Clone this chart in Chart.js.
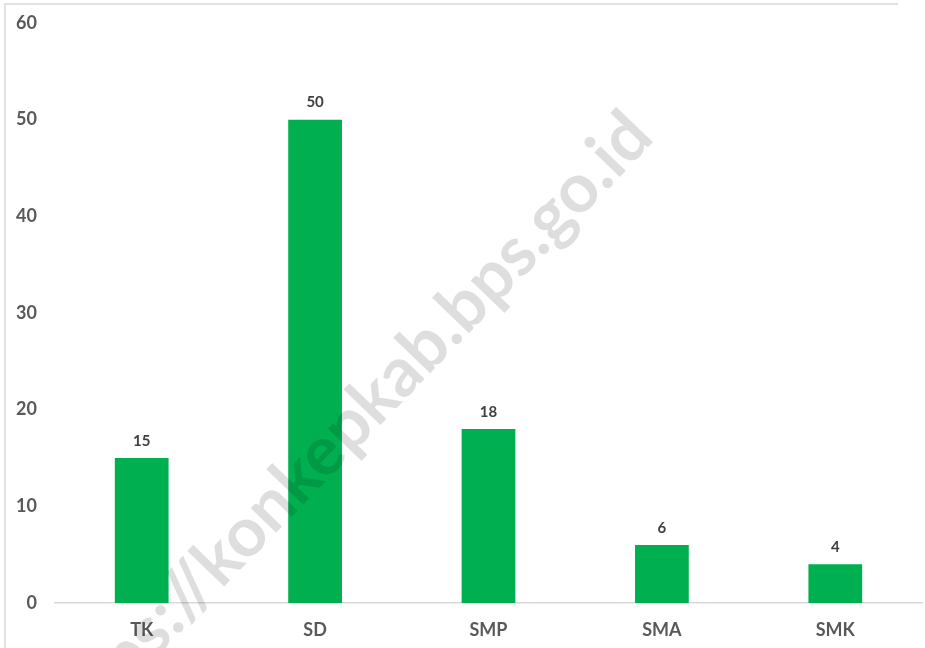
<!DOCTYPE html>
<html>
<head>
    <title>Jumlah Sekolah</title>
    <script src="https://cdn.jsdelivr.net/npm/chart.js"></script>
    <style>
        html, body { margin: 0; padding: 0; background: #fff; }
        #wrap { width: 925px; height: 648px; position: relative; }
    </style>
</head>
<body>
    <div id="wrap"><canvas id="sekolahChart"></canvas></div>

    <script>
        // data
        const jenjang = ['TK', 'SD', 'SMP', 'SMA', 'SMK'];
        const jumlah = [15, 50, 18, 6, 4];
        const yTicks = [0, 10, 20, 30, 40, 50, 60];
        const watermark = 'https://konkepkab.bps.go.id';

        const FONT = 'Lato, "Noto Sans", sans-serif';

        // bingkai tipis kiri & atas
        const framePlugin = {
            id: 'frame',
            beforeDraw(chart) {
                const c = chart.ctx;
                c.save();
                c.strokeStyle = '#d9d9d9';
                c.lineWidth = 1.5;
                c.beginPath();
                c.moveTo(5, 648);
                c.lineTo(5, 4);
                c.lineTo(898, 4);
                c.stroke();
                c.restore();
            }
        };

        // angka di atas batang
        const labelPlugin = {
            id: 'barLabels',
            afterDatasetsDraw(chart) {
                const c = chart.ctx;
                const meta = chart.getDatasetMeta(0);
                c.save();
                c.font = 'bold 15px ' + FONT;
                c.fillStyle = '#404040';
                c.textAlign = 'center';
                c.textBaseline = 'middle';
                meta.data.forEach((bar, i) => {
                    c.fillText(jumlah[i], bar.x, bar.y - 17);
                });
                c.restore();
            }
        };

        // watermark miring
        const watermarkPlugin = {
            id: 'watermark',
            afterDraw(chart) {
                const c = chart.ctx;
                c.save();
                c.translate(640, 124);
                c.rotate(-46 * Math.PI / 180);
                c.font = 'bold 69px ' + FONT;
                c.fillStyle = 'rgba(0,0,0,0.13)';
                c.textAlign = 'right';
                c.textBaseline = 'middle';
                c.fillText(watermark, 0, 0);
                c.restore();
            }
        };

        const ctx = document.getElementById('sekolahChart').getContext('2d');
        const sekolahChart = new Chart(ctx, {
            type: 'bar',
            data: {
                labels: jenjang,
                datasets: [{
                    data: jumlah,
                    backgroundColor: '#00B050',
                    barPercentage: 0.31,
                    categoryPercentage: 1
                }]
            },
            options: {
                responsive: true,
                maintainAspectRatio: false,
                animation: false,
                layout: { padding: { top: 20, right: 3, left: 0, bottom: 0 } },
                plugins: {
                    legend: { display: false },
                    tooltip: { enabled: false }
                },
                scales: {
                    x: {
                        grid: { display: false, drawTicks: false },
                        border: { display: true, color: '#d9d9d9', width: 1.5 },
                        ticks: {
                            color: '#595959',
                            font: { family: FONT, size: 18, weight: 'bold' },
                            padding: 16
                        },
                        afterFit(scale) { scale.height = 45; }
                    },
                    y: {
                        min: 0,
                        max: 60,
                        afterBuildTicks(scale) {
                            scale.ticks = yTicks.map(v => ({ value: v }));
                        },
                        grid: { display: false, drawTicks: false },
                        border: { display: false },
                        ticks: {
                            color: '#595959',
                            // lineHeight kecil supaya area plot mulai di y≈23
                            font: { family: FONT, size: 18, weight: 'bold', lineHeight: 0.55 },
                            padding: 18
                        },
                        afterFit(scale) { scale.width = 55; }
                    }
                }
            },
            plugins: [framePlugin, labelPlugin, watermarkPlugin]
        });
    </script>
</body>
</html>
